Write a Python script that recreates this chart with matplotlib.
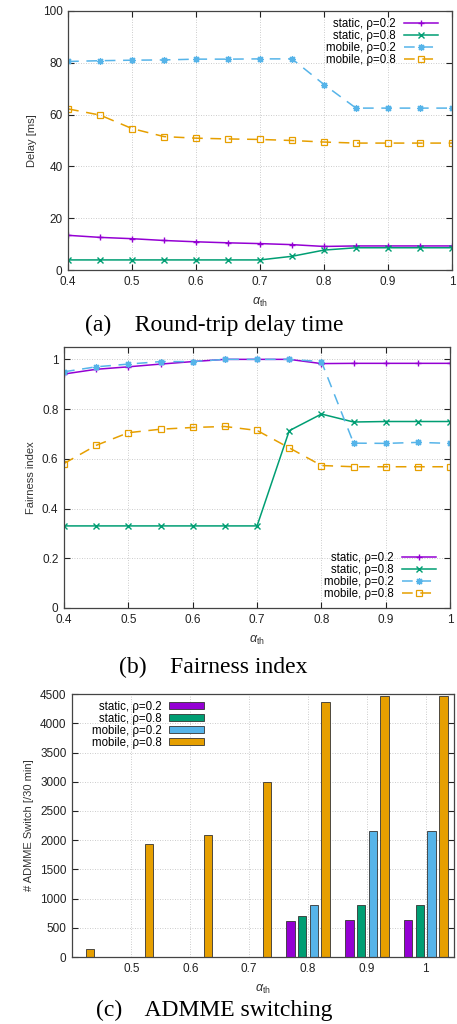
import numpy as np
import matplotlib
matplotlib.use("Agg")
import matplotlib.pyplot as plt

plt.rcParams["font.family"] = ["Liberation Sans", "DejaVu Sans"]
plt.rcParams["mathtext.fontset"] = "custom"
plt.rcParams["mathtext.rm"] = "Liberation Sans"
plt.rcParams["mathtext.it"] = "Liberation Sans:italic"

# =========================
# Data
# =========================
alpha = [0.4, 0.45, 0.5, 0.55, 0.6, 0.65, 0.7, 0.75, 0.8, 0.85, 0.9, 0.95, 1.0]

delay_static_02 = [13.4, 12.6, 12.1, 11.4, 10.9, 10.5, 10.2, 9.8, 9.1, 9.3, 9.3, 9.3, 9.3]
delay_static_08 = [3.9, 3.9, 3.9, 3.9, 3.9, 3.9, 3.9, 5.3, 7.7, 8.6, 8.6, 8.6, 8.6]
delay_mobile_02 = [80.5, 80.8, 81.0, 81.1, 81.4, 81.4, 81.5, 81.5, 71.6, 62.5, 62.5, 62.5, 62.5]
delay_mobile_08 = [62.2, 59.8, 54.6, 51.5, 50.9, 50.6, 50.4, 50.0, 49.4, 49.0, 49.0, 49.0, 49.0]

fair_static_02 = [0.941, 0.960, 0.970, 0.981, 0.991, 1.0, 1.0, 1.0, 0.983, 0.984, 0.984, 0.984, 0.984]
fair_static_08 = [0.330, 0.330, 0.330, 0.330, 0.330, 0.330, 0.330, 0.713, 0.780, 0.748, 0.750, 0.750, 0.750]
fair_mobile_02 = [0.950, 0.970, 0.981, 0.991, 0.991, 1.0, 1.0, 1.0, 0.991, 0.663, 0.662, 0.666, 0.662]
fair_mobile_08 = [0.581, 0.654, 0.705, 0.719, 0.726, 0.730, 0.714, 0.644, 0.573, 0.568, 0.568, 0.568, 0.568]

sw_alpha = [0.4, 0.5, 0.6, 0.7, 0.8, 0.9, 1.0]
sw_static_02 = [0, 0, 0, 0, 615, 638, 632]
sw_static_08 = [0, 0, 0, 0, 706, 888, 883]
sw_mobile_02 = [0, 0, 0, 0, 894, 2158, 2158]
sw_mobile_08 = [130, 1940, 2090, 3000, 4370, 4470, 4470]

labels = ["static, ρ=0.2", "static, ρ=0.8", "mobile, ρ=0.2", "mobile, ρ=0.8"]
colors = ["#9400d3", "#009e73", "#56b4e9", "#e69f00"]

# =========================
# Style helpers
# =========================
def style_axes(ax):
    ax.tick_params(direction="in", length=4, width=0.8, labelsize=8.5,
                   top=True, right=True, pad=4, colors="#222222")
    ax.grid(True, linestyle=(0, (1, 2)), linewidth=0.6, color="#bbbbbb")
    ax.set_axisbelow(True)
    for sp in ax.spines.values():
        sp.set_color("#444444")
        sp.set_linewidth(0.9)
    ax.set_xlabel(r"$\alpha_{\mathrm{th}}$", fontsize=9, labelpad=6, color="#333333")


def line_plot(ax, series):
    styles = [
        dict(ls="-", marker="+", ms=5, mew=1.0),
        dict(ls="-", marker="x", ms=4, mew=1.0),
        dict(ls=(0, (7, 5)), marker=(8, 2, 0), ms=5, mew=0.9),
        dict(ls=(0, (7, 5)), marker="s", ms=4.5, mew=0.9, mfc="none"),
    ]
    for ys, lab, col, st in zip(series, labels, colors, styles):
        ax.plot(alpha, ys, color=col, lw=1.1, label=lab, **st)
    ax.set_xlim(0.4, 1.0)
    ax.set_xticks([0.4, 0.5, 0.6, 0.7, 0.8, 0.9, 1.0])
    ax.set_xticklabels(["0.4", "0.5", "0.6", "0.7", "0.8", "0.9", "1"])


fig = plt.figure(figsize=(4.57, 10.24), dpi=100)

leg_kw = dict(frameon=False, fontsize=8.3, markerfirst=False,
              handlelength=3.0, labelspacing=0.0, handletextpad=0.7,
              borderaxespad=0.3)

# =========================
# (a) Round-trip delay
# =========================
ax1 = fig.add_axes([0.149, 0.7363, 0.840, 0.253])
line_plot(ax1, [delay_static_02, delay_static_08, delay_mobile_02, delay_mobile_08])
ax1.set_ylim(0, 100)
ax1.set_yticks([0, 20, 40, 60, 80, 100])
ax1.set_ylabel("Delay [ms]", fontsize=8, color="#333333")
style_axes(ax1)
ax1.legend(loc="upper right", bbox_to_anchor=(0.985, 1.005), **leg_kw)

# =========================
# (b) Fairness index
# =========================
ax2 = fig.add_axes([0.140, 0.4063, 0.845, 0.2549])
line_plot(ax2, [fair_static_02, fair_static_08, fair_mobile_02, fair_mobile_08])
ax2.set_ylim(0, 1.05)
ax2.set_yticks([0, 0.2, 0.4, 0.6, 0.8, 1.0])
ax2.set_yticklabels(["0", "0.2", "0.4", "0.6", "0.8", "1"])
ax2.set_ylabel("Fairness index", fontsize=8, color="#333333")
style_axes(ax2)
ax2.legend(loc="lower right", bbox_to_anchor=(0.985, 0.0), **leg_kw)

# =========================
# (c) ADMME switching
# =========================
ax3 = fig.add_axes([0.1575, 0.0654, 0.836, 0.2568])
x = np.array(sw_alpha)
width = 0.0145
step = 0.02
offsets = [-1.5 * step, -0.5 * step, 0.5 * step, 1.5 * step]
for ys, lab, col, off in zip([sw_static_02, sw_static_08, sw_mobile_02, sw_mobile_08],
                             labels, colors, offsets):
    ys = np.array(ys)
    mask = ys > 0
    ax3.bar(x[mask] + off, ys[mask], width=width, color=col,
            edgecolor="#333333", linewidth=0.6, label=lab)
ax3.set_xlim(0.399, 1.048)
ax3.set_xticks([0.5, 0.6, 0.7, 0.8, 0.9, 1.0])
ax3.set_xticklabels(["0.5", "0.6", "0.7", "0.8", "0.9", "1"])
ax3.set_ylim(0, 4500)
ax3.set_yticks(np.arange(0, 4501, 500))
ax3.set_ylabel("# ADMME Switch [/30 min]", fontsize=8, color="#333333")
style_axes(ax3)
ax3.tick_params(axis="x", top=False, bottom=False)
ax3.legend(loc="upper left", bbox_to_anchor=(0.03, 1.005), handleheight=0.5,
           **leg_kw)

# =========================
# Captions
# =========================
cap = dict(ha="center", va="center", fontsize=17, family="Liberation Serif")
fig.text(214 / 457, 1 - 325 / 1024, "(a)    Round-trip delay time", **cap)
fig.text(213 / 457, 1 - 667 / 1024, "(b)    Fairness index", **cap)
fig.text(214 / 457, 1 - 1010 / 1024, "(c)    ADMME switching", **cap)

fig.savefig("out.png", dpi=100)
